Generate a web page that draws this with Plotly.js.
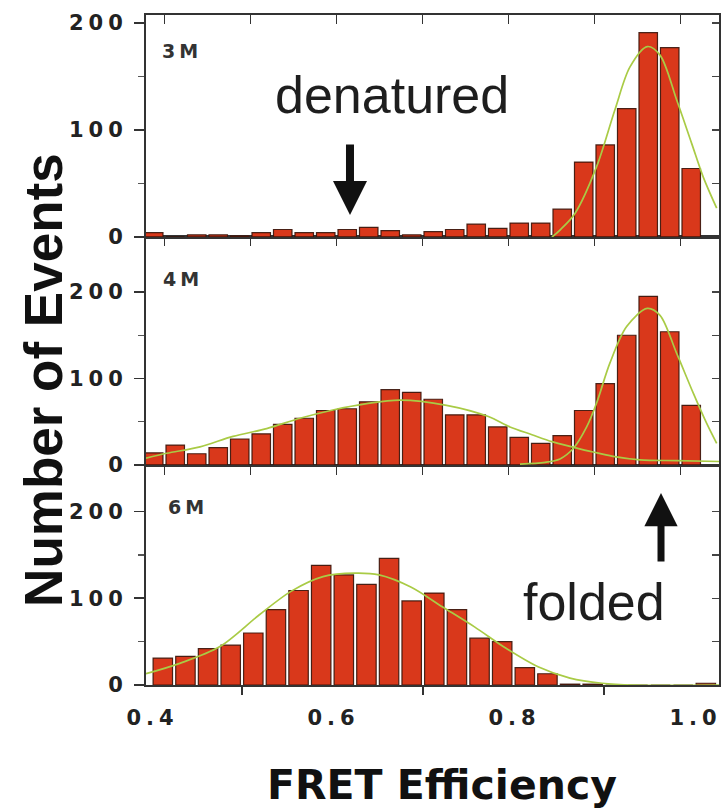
<!DOCTYPE html>
<html><head><meta charset="utf-8">
<script src="https://cdn.plot.ly/plotly-3.0.1.min.js"></script>
<style>
html,body{margin:0;padding:0;background:#fff;}
#chart{width:724px;height:811px;}
.ytick text, .y2tick text, .y3tick text, .xtick text { letter-spacing: 5px; }
.annotation[data-index="0"] text, .annotation[data-index="1"] text, .annotation[data-index="2"] text { letter-spacing: 4px; }
</style></head><body><div id="chart"></div>
<script>
// ---- data ----
const binCentersTop = [0.3875, 0.4125, 0.4375, 0.4625, 0.4875, 0.5125, 0.5375, 0.5625, 0.5875, 0.6125, 0.6375, 0.6625, 0.6875,
                       0.7125, 0.7375, 0.7625, 0.7875, 0.8125, 0.8375, 0.8625, 0.8875, 0.9125, 0.9375, 0.9625, 0.9875, 1.0125];
const binCenters6M = [0.4125, 0.4375, 0.4625, 0.4875, 0.5125, 0.5375, 0.5625, 0.5875, 0.6125, 0.6375, 0.6625, 0.6875,
                      0.7125, 0.7375, 0.7625, 0.7875, 0.8125, 0.8375, 0.8625, 0.8875, 0.9125, 0.9375, 0.9625, 0.9875, 1.0125];
const counts3M = [4, 0, 2, 2, 1, 4, 7, 4, 4, 7, 9, 6, 2, 5, 7, 12, 8, 13, 13, 26, 70, 86, 120, 191, 177, 64];
const counts4M = [14, 23, 13, 20, 30, 36, 47, 54, 63, 65, 73, 87, 84, 76, 58, 58, 44, 32, 25, 34, 63, 94, 150, 195, 154, 69];
const counts6M = [31, 33, 42, 46, 60, 87, 109, 138, 127, 116, 146, 97, 106, 87, 54, 50, 20, 13, 1, 1, 0, 0, 0, 0, 2];

const fit3M_x = [0.8506, 0.8599, 0.8773, 0.9026, 0.9238, 0.9413, 0.9614, 0.9762, 0.9956, 1.0130, 1.0265, 1.0421];
const fit3M_y = [0, 6.5, 22, 66, 119, 159, 178, 170, 128, 87.5, 56, 27];
const fit4Mbroad_x = [0.3785, 0.4026, 0.4413, 0.4797, 0.5188, 0.5576, 0.5959, 0.6351, 0.6738, 0.7280, 0.7766, 0.8017,
                      0.8273, 0.8506, 0.8738, 0.8983, 0.9215, 0.9529, 0.9956, 1.0448];
const fit4Mbroad_y = [8, 13.5, 21, 33, 42, 54, 63.6, 71, 75, 69, 56, 44, 35, 27, 21, 15, 10, 6, 5, 4];
const fit4Mnarrow_x = [0.8134, 0.8425, 0.8599, 0.8753, 0.8909, 0.9026, 0.9180, 0.9374, 0.9614, 0.9762, 0.9956, 1.0149, 1.0305, 1.0421];
const fit4Mnarrow_y = [1, 3, 7, 19, 44, 72, 118, 160, 181, 173, 129, 83, 48, 25];
const fit6M_x = [0.3939, 0.4312, 0.4751, 0.5192, 0.5541, 0.5895, 0.6249, 0.6514, 0.6865, 0.7217, 0.7569, 0.7922,
                 0.8271, 0.8624, 0.8978, 0.9331, 1.0271];
const fit6M_y = [13, 25, 44, 81, 108, 125, 129, 127, 113, 90, 67, 42, 21, 8, 2, 0, 0];

const panelLabels = ['3M', '4M', '6M'];
const yTickVals = [0, 100, 200];
const yTickText = ['0', '100', '200'];
const yMinorVals = [50, 150];
const yRightTickVals = [0, 50, 100, 150, 200];
const xTickVals = [0.4, 0.6, 0.8, 1.0];
const xTickText = ['0.4', '0.6', '0.8', '1.0'];
const xMinorVals = [0.5, 0.7, 0.9];
const xTitle = 'FRET Efficiency';
const yTitle = 'Number of Events';
const noteDenatured = 'denatured';
const noteFolded = 'folded';

// ---- styling ----
const barFill = '#d9381b';
const barEdge = 'rgba(55,18,8,0.9)';
const fitColor = '#a9cb45';
const axisColor = '#333333';
const tickFont = {family: 'DejaVu Sans', size: 21, weight: 700, color: '#222'};
const rangeTop = [0.3785, 1.0448];
const range6M = [0.39392, 1.02707];
const yRange3M = [0, 207.5], yRange4M = [0, 263.6], yRange6M = [0, 252.6];

function barTrace(x, y, xa, ya) {
  return {type: 'bar', x: x, y: y, xaxis: xa, yaxis: ya,
          marker: {color: barFill, line: {color: barEdge, width: 1.2}}, hoverinfo: 'skip'};
}
function fitTrace(x, y, xa, ya) {
  return {type: 'scatter', mode: 'lines', x: x, y: y, xaxis: xa, yaxis: ya,
          line: {color: fitColor, width: 1.7, shape: 'spline', smoothing: 0.9}, hoverinfo: 'skip'};
}
function frameTrace(xa, ya) { // blank trace that only registers an overlay axis pair (ticks only)
  return {type: 'scatter', mode: 'lines', x: [null], y: [null], xaxis: xa, yaxis: ya,
          line: {width: 0}, hoverinfo: 'skip', showlegend: false};
}

const data = [
  barTrace(binCentersTop, counts3M, 'x3', 'y3'),
  fitTrace(fit3M_x, fit3M_y, 'x3', 'y3'),
  barTrace(binCentersTop, counts4M, 'x2', 'y2'),
  fitTrace(fit4Mbroad_x, fit4Mbroad_y, 'x2', 'y2'),
  fitTrace(fit4Mnarrow_x, fit4Mnarrow_y, 'x2', 'y2'),
  barTrace(binCenters6M, counts6M, 'x', 'y'),
  fitTrace(fit6M_x, fit6M_y, 'x', 'y'),
  frameTrace('x', 'y4'),
  frameTrace('x2', 'y5'),
  frameTrace('x3', 'y6'),
  frameTrace('x4', 'y')
];

function yAxis(domain, range) {
  return {domain: domain, range: range, tickmode: 'array', tickvals: yTickVals, ticktext: yTickText,
          ticks: 'outside', ticklen: 10, tickwidth: 1.6, tickcolor: axisColor,
          minor: {tickmode: 'array', tickvals: yMinorVals, ticks: 'outside', ticklen: 6, tickwidth: 1.4, tickcolor: '#555'},
          showline: true, linecolor: axisColor, linewidth: 2, mirror: true,
          showgrid: false, zeroline: false, tickfont: tickFont, ticklabelstandoff: 2, fixedrange: true};
}
function yRightAxis(over, anchor, range) {
  return {overlaying: over, anchor: anchor, side: 'right', range: range, tickmode: 'array', tickvals: yRightTickVals,
          ticks: 'inside', ticklen: 7, tickwidth: 1.4, tickcolor: '#444', showticklabels: false,
          showline: false, showgrid: false, zeroline: false, fixedrange: true};
}
function topXAxis(anchor, range, over) {
  const a = {anchor: anchor, range: range, side: 'top',
          tickmode: 'linear', tick0: 0.4, dtick: 0.1, ticks: 'inside', ticklen: 9, tickwidth: 1.5, tickcolor: axisColor,
          showticklabels: false, showline: true, linecolor: axisColor, linewidth: 2, mirror: true,
          showgrid: false, zeroline: false, fixedrange: true};
  if (over) { a.overlaying = over; a.showline = false; a.mirror = false; } else { a.domain = [0, 1]; }
  return a;
}

const layout = {
  width: 724, height: 811,
  margin: {l: 146, r: 5, t: 15, b: 126, pad: 0},
  paper_bgcolor: '#ffffff', plot_bgcolor: '#ffffff',
  showlegend: false, bargap: 0.14,
  font: {family: 'Liberation Sans', color: '#222'},
  xaxis: {anchor: 'y', domain: [0, 1], range: range6M,
          tickmode: 'array', tickvals: xTickVals, ticktext: xTickText, ticks: '', ticklen: 0,
          minor: {tickmode: 'array', tickvals: xMinorVals, ticks: 'outside', ticklen: 8, tickwidth: 1.5, tickcolor: axisColor},
          showline: true, linecolor: axisColor, linewidth: 2, mirror: true, ticklabeloverflow: 'allow',
          showgrid: false, zeroline: false, tickfont: tickFont, ticklabelstandoff: 13, ticklabelshift: 1, fixedrange: true},
  yaxis: yAxis([0, 0.3269], yRange6M),
  xaxis2: topXAxis('y2', rangeTop),
  yaxis2: yAxis([0.3284, 0.6687], yRange4M),
  xaxis3: topXAxis('y3', rangeTop),
  yaxis3: yAxis([0.6687, 1], yRange3M),
  xaxis4: topXAxis('y', rangeTop, 'x'),
  yaxis4: yRightAxis('y', 'x', yRange6M),
  yaxis5: yRightAxis('y2', 'x2', yRange4M),
  yaxis6: yRightAxis('y3', 'x3', yRange3M),
  annotations: [
    {text: panelLabels[0], xref: 'paper', yref: 'paper', x: 0.0314, y: 0.946, xanchor: 'left', yanchor: 'middle', showarrow: false,
     font: {family: 'DejaVu Sans', size: 19, weight: 700, color: '#333'}},
    {text: panelLabels[1], xref: 'paper', yref: 'paper', x: 0.0332, y: 0.606, xanchor: 'left', yanchor: 'middle', showarrow: false,
     font: {family: 'DejaVu Sans', size: 19, weight: 700, color: '#333'}},
    {text: panelLabels[2], xref: 'paper', yref: 'paper', x: 0.0419, y: 0.266, xanchor: 'left', yanchor: 'middle', showarrow: false,
     font: {family: 'DejaVu Sans', size: 19, weight: 700, color: '#333'}},
    {text: noteDenatured, xref: 'paper', yref: 'paper', x: 0.4293, y: 0.8806, xanchor: 'center', yanchor: 'middle', showarrow: false,
     font: {family: 'Liberation Sans', size: 52, color: '#1e1e1e'}},
    {text: noteFolded, xref: 'paper', yref: 'paper', x: 0.7818, y: 0.1239, xanchor: 'center', yanchor: 'middle', showarrow: false,
     font: {family: 'Liberation Sans', size: 52, color: '#1e1e1e'}},
    {text: '', xref: 'paper', yref: 'paper', x: 0.356, y: 0.7015, ax: 0, ay: -72, showarrow: true,
     arrowhead: 2, arrowsize: 0.85, arrowwidth: 8, arrowcolor: '#111'},
    {text: '', xref: 'paper', yref: 'paper', x: 0.8988, y: 0.2866, ax: 0, ay: 70, showarrow: true,
     arrowhead: 2, arrowsize: 0.95, arrowwidth: 7, arrowcolor: '#111'},
    {text: yTitle, xref: 'paper', yref: 'paper', x: -0.1800, y: 0.4552, xanchor: 'center', yanchor: 'middle', textangle: -90,
     showarrow: false, font: {family: 'Liberation Sans', size: 53, weight: 700, color: '#111'}},
    {text: xTitle, xref: 'paper', yref: 'paper', x: 0.5166, y: -0.1493, xanchor: 'center', yanchor: 'middle',
     showarrow: false, font: {family: 'DejaVu Sans', size: 41, weight: 700, color: '#111'}}
  ]
};

Plotly.newPlot('chart', data, layout, {displayModeBar: false, staticPlot: true});
</script></body></html>
